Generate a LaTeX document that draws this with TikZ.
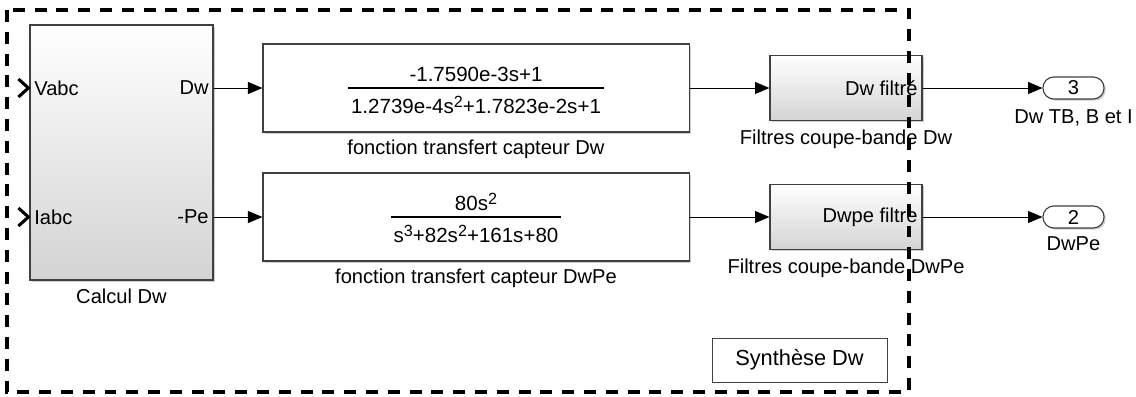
\documentclass[tikz,border=0pt]{standalone}
\usepackage{fontspec}
\setmainfont{Liberation Sans}
\usetikzlibrary{positioning,calc,arrows.meta,shadows}

\setlength{\arrayrulewidth}{0.9pt}
\newcommand{\expo}[1]{\raisebox{0.55ex}{\fontsize{11.5}{12}\selectfont#1}}
\newcommand{\tfbox}[2]{\fontsize{14.6}{14}\selectfont\begin{tabular}{@{\hspace{2pt}}c@{\hspace{2pt}}}\rule{0pt}{17.5pt}#1\\\hline\rule{0pt}{17.5pt}#2\end{tabular}}

\begin{document}
\begin{tikzpicture}[x=0.025cm,y=-0.025cm,>={Triangle[length=0.36cm,width=0.3cm]},
    every node/.style={font=\fontsize{14.3}{16}\selectfont},
    blk/.style={draw=black!75,line width=0.8pt,fill=white,
        drop shadow={shadow xshift=1.2pt,shadow yshift=-1.2pt,fill=black!40}},
    grad/.style={blk,top color=white,bottom color=black!17},
    outport/.style={blk,rounded corners=0.27cm,minimum width=1.525cm,minimum height=0.55cm,inner sep=0pt},
    sig/.style={->,line width=0.6pt}]
    \useasboundingbox (0,0) rectangle (1136,396);
    \coordinate (row1) at (0,88);
    \coordinate (row2) at (0,217);
    % bloc de calcul
    \node[grad,minimum width=4.575cm,minimum height=6.375cm] (calc) at (121.5,152.5) {};
    \node[below=2.5pt of calc] (calclbl) {Calcul Dw};
    \node[anchor=west] (vabc) at (calc.west |- row1) {Vabc};
    \node[anchor=west] (iabc) at (calc.west |- row2) {Iabc};
    \node[anchor=east] (dwout) at (calc.east |- row1) {Dw};
    \node[anchor=east] (peout) at (calc.east |- row2) {-Pe};
    \foreach \p in {vabc,iabc}
    {
        \draw[line width=2.2pt] ($(calc.west |- \p)+(-11,-9)$) -- ($(calc.west |- \p)+(-1,0)$) -- ($(calc.west |- \p)+(-11,9)$);
    }
    % fonctions de transfert
    \node[blk,minimum width=10.65cm,minimum height=2.2cm] (tf1) at (476,88)
        {\tfbox{-1.7590e-3s+1}{1.2739e-4s\expo{2}+1.7823e-2s+1}};
    \node[below=1.5pt of tf1] (tf1lbl) {fonction transfert capteur Dw};
    \node[blk,minimum width=10.65cm,minimum height=2.2cm] (tf2) at (476,217)
        {\tfbox{80s\expo{2}}{s\expo{3}+82s\expo{2}+161s+80}};
    \node[below=1.5pt of tf2] (tf2lbl) {fonction transfert capteur DwPe};
    % filtres
    \node[grad,minimum width=3.8cm,minimum height=1.625cm] (filt1) at (846,88) {};
    \node[anchor=east] (filt1txt) at (filt1.east) {Dw filtré};
    \node[below=2.5pt of filt1] (filt1lbl) {Filtres coupe-bande Dw};
    \node[grad,minimum width=3.8cm,minimum height=1.625cm] (filt2) at (846,217) {};
    \node[anchor=east] (filt2txt) at (filt2.east) {Dwpe filtre};
    \node[below=2.5pt of filt2] (filt2lbl) {Filtres coupe-bande DwPe};
    % sorties
    \node[outport] (out3) at (1073.5,88) {3};
    \node[below=3.5pt of out3] (out3lbl) {Dw TB, B et I};
    \node[outport] (out2) at (1073.5,217) {2};
    \node[below=2.5pt of out2] (out2lbl) {DwPe};
    % liaisons
    \draw[sig] (dwout.east) -- (tf1.west);
    \draw[sig] (peout.east) -- (tf2.west);
    \foreach \a/\b/\c in {tf1/filt1/out3,tf2/filt2/out2}
    {
        \draw[sig] (\a.east) -- (\b.west);
        \draw[sig] (\b.east) -- (\c.west);
    }
    % sous-systeme
    \node[draw=black!75,line width=0.6pt,minimum width=4.375cm,minimum height=1.1cm,
        font=\fontsize{15.5}{18}\selectfont] (synth) at (799.5,360) {Synthèse Dw};
    \draw[line width=2.2pt,dash pattern=on 8.5pt off 7pt] (7,10) rectangle (909,392);
\end{tikzpicture}
\end{document}
